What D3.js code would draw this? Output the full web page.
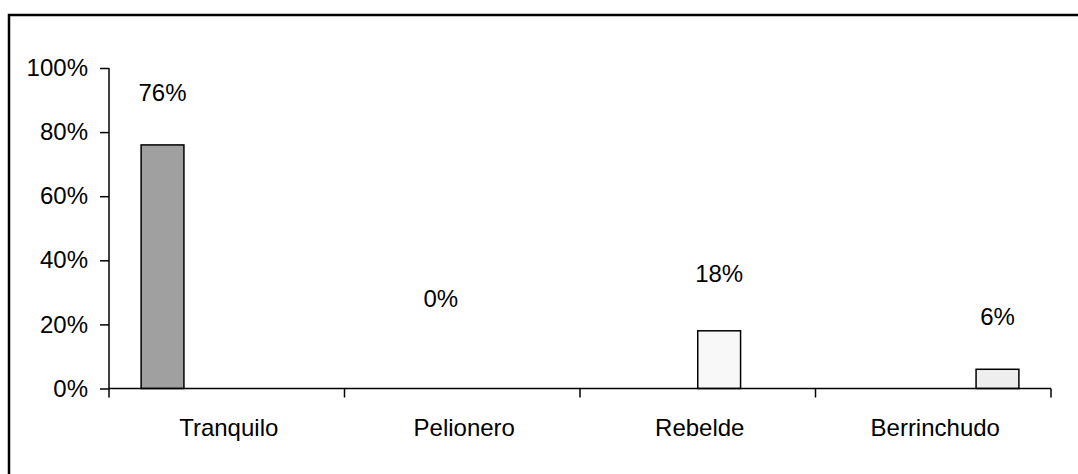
<!DOCTYPE html>
<html>
<head>
<meta charset="utf-8">
<script src="https://cdn.jsdelivr.net/npm/d3@7"></script>
<style>
  html, body { margin: 0; padding: 0; background: #fff; }
  svg { display: block; font-family: "Liberation Sans", Arial, sans-serif; }
</style>
</head>
<body>
<svg id="chart" width="1078" height="474"></svg>
<script>
// Data
const categories = ["Tranquilo", "Pelionero", "Rebelde", "Berrinchudo"];
const values = [76, 0, 18, 6];               // percent
const valueLabels = ["76%", "0%", "18%", "6%"];
const labelAt = [92.3, 28, 36, 22.4];        // label anchor, in axis percent units
const fills = ["#a0a0a0", "#f4f4f4", "#f8f8f8", "#eeeeee"];
const yTicks = [0, 20, 40, 60, 80, 100];

(function () {
const svg = d3.select("#chart");

// frame (top and left border)
svg.append("path")
  .attr("d", "M9,1000 L9,15 L1100,15")
  .attr("fill", "none").attr("stroke", "#000").attr("stroke-width", 2.5);

const plotLeft = 109, plotRight = 1051, plotTop = 68, plotBottom = 388.5;

const y = d3.scaleLinear().domain([0, 100]).range([plotBottom, plotTop]);
const x0 = d3.scaleBand().domain(categories).range([plotLeft, plotRight]).paddingInner(0).paddingOuter(0);
const x1 = d3.scaleBand().domain(categories).range([0, x0.bandwidth()]).paddingInner(0).paddingOuter(0.75);

// bars (each category is its own series in a cluster)
svg.append("g").selectAll("rect")
  .data(categories)
  .join("rect")
  .attr("x", (d) => x0(d) + x1(d))
  .attr("y", (d, i) => y(values[i]))
  .attr("width", x1.bandwidth())
  .attr("height", (d, i) => plotBottom - y(values[i]))
  .attr("fill", (d, i) => fills[i])
  .attr("stroke", "#000")
  .attr("stroke-width", 1.5);

// y axis
const yAxis = svg.append("g")
  .attr("transform", `translate(${plotLeft},0)`)
  .call(d3.axisLeft(y).tickValues(yTicks).tickFormat(d => d + "%").tickSize(9).tickPadding(12));
yAxis.selectAll("text").attr("font-size", 24).attr("fill", "#000").attr("font-family", "Liberation Sans, Arial, sans-serif");
yAxis.select(".domain").attr("d", `M0,${plotTop}V${plotBottom}`).attr("stroke-width", 1.5);
yAxis.selectAll(".tick line").attr("stroke-width", 1.5);

// x axis
const xTickPos = categories.map(c => x0(c)).concat([plotRight]);
const xAxisG = svg.append("g").attr("transform", `translate(0,${plotBottom})`);
xAxisG.append("line").attr("x1", plotLeft).attr("x2", plotRight).attr("y1", 0).attr("y2", 0)
  .attr("stroke", "#000").attr("stroke-width", 1.5);
xAxisG.selectAll("line.t").data(xTickPos).join("line").attr("class", "t")
  .attr("x1", d => d).attr("x2", d => d).attr("y1", 0).attr("y2", 9)
  .attr("stroke", "#000").attr("stroke-width", 1.5);
xAxisG.selectAll("text").data(categories).join("text")
  .attr("x", d => x0(d) + x0.bandwidth() / 2 + 2)
  .attr("y", 47)
  .attr("text-anchor", "middle")
  .attr("font-size", 24)
  .attr("fill", "#000")
  .text(d => d);

// value labels
svg.append("g").selectAll("text")
  .data(categories)
  .join("text")
  .attr("x", (d) => x0(d) + x1(d) + x1.bandwidth() / 2)
  .attr("y", (d, i) => y(labelAt[i]))
  .attr("dy", "0.35em")
  .attr("text-anchor", "middle")
  .attr("font-size", 24)
  .attr("fill", "#000")
  .text((d, i) => valueLabels[i]);
})();
</script>
</body>
</html>
